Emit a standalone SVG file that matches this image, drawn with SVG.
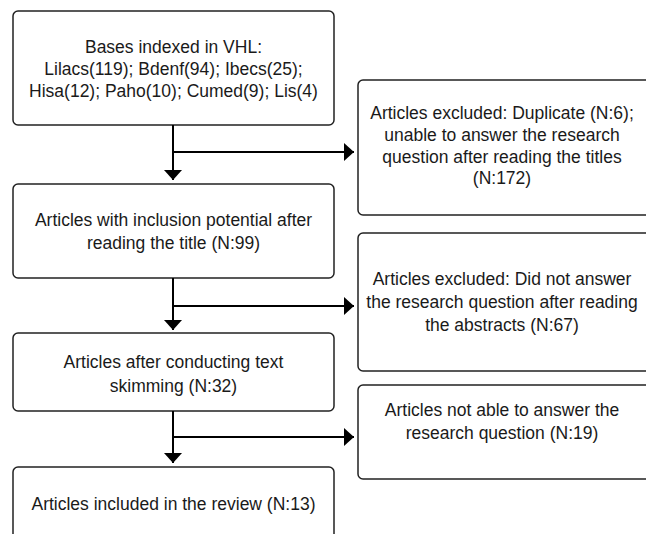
<svg xmlns="http://www.w3.org/2000/svg" width="646" height="534" viewBox="0 0 646 534">
<style>
.box{fill:#fff;stroke:#222;stroke-width:1.5}
.t{font-family:"Liberation Sans",Arial,sans-serif;font-size:17.5px;fill:#1a1a1a;text-anchor:middle}
.c{stroke:#000;stroke-width:2;fill:none}
</style>
<defs>
<marker id="ah" markerWidth="10" markerHeight="18" refX="10" refY="9" orient="auto" markerUnits="userSpaceOnUse">
<path d="M0,0 L10,9 L0,18 Z" fill="#000"/>
</marker>
</defs>
<rect width="646" height="534" fill="#fff"/>
<g id="n1">
<rect class="box" x="13" y="11" width="321" height="114" rx="5"/>
<text class="t" x="173.5" y="53">Bases indexed in VHL:</text>
<text class="t" x="173.5" y="75">Lilacs(119); Bdenf(94); Ibecs(25);</text>
<text class="t" x="173.5" y="97">Hisa(12); Paho(10); Cumed(9); Lis(4)</text>
</g>
<g id="e1">
<rect class="box" x="358" y="80" width="300" height="135" rx="5"/>
<text class="t" x="502" y="119">Articles excluded: Duplicate (N:6);</text>
<text class="t" x="502" y="141">unable to answer the research</text>
<text class="t" x="502" y="163">question after reading the titles</text>
<text class="t" x="502" y="184">(N:172)</text>
</g>
<g id="n2">
<rect class="box" x="13" y="184" width="321" height="94" rx="5"/>
<text class="t" x="173.5" y="226">Articles with inclusion potential after</text>
<text class="t" x="173.5" y="249">reading the title (N:99)</text>
</g>
<g id="e2">
<rect class="box" x="358" y="233" width="300" height="138" rx="5"/>
<text class="t" x="502" y="285">Articles excluded: Did not answer</text>
<text class="t" x="502" y="308">the research question after reading</text>
<text class="t" x="502" y="331">the abstracts (N:67)</text>
</g>
<g id="n3">
<rect class="box" x="13" y="333" width="321" height="78" rx="5"/>
<text class="t" x="173.5" y="368">Articles after conducting text</text>
<text class="t" x="173.5" y="392">skimming (N:32)</text>
</g>
<g id="e3">
<rect class="box" x="358" y="385" width="300" height="94" rx="5"/>
<text class="t" x="502" y="416">Articles not able to answer the</text>
<text class="t" x="502" y="439">research question (N:19)</text>
</g>
<g id="n4">
<rect class="box" x="13" y="467" width="321" height="90" rx="5"/>
<text class="t" x="173.5" y="510">Articles included in the review (N:13)</text>
</g>
<g id="connectors">
<line class="c" x1="173" y1="125" x2="173" y2="180" marker-end="url(#ah)"/>
<line class="c" x1="173" y1="152" x2="354" y2="152" marker-end="url(#ah)"/>
<line class="c" x1="173" y1="278" x2="173" y2="330" marker-end="url(#ah)"/>
<line class="c" x1="173" y1="306" x2="354" y2="306" marker-end="url(#ah)"/>
<line class="c" x1="173" y1="411" x2="173" y2="463" marker-end="url(#ah)"/>
<line class="c" x1="173" y1="437" x2="354" y2="437" marker-end="url(#ah)"/>
</g>
</svg>
